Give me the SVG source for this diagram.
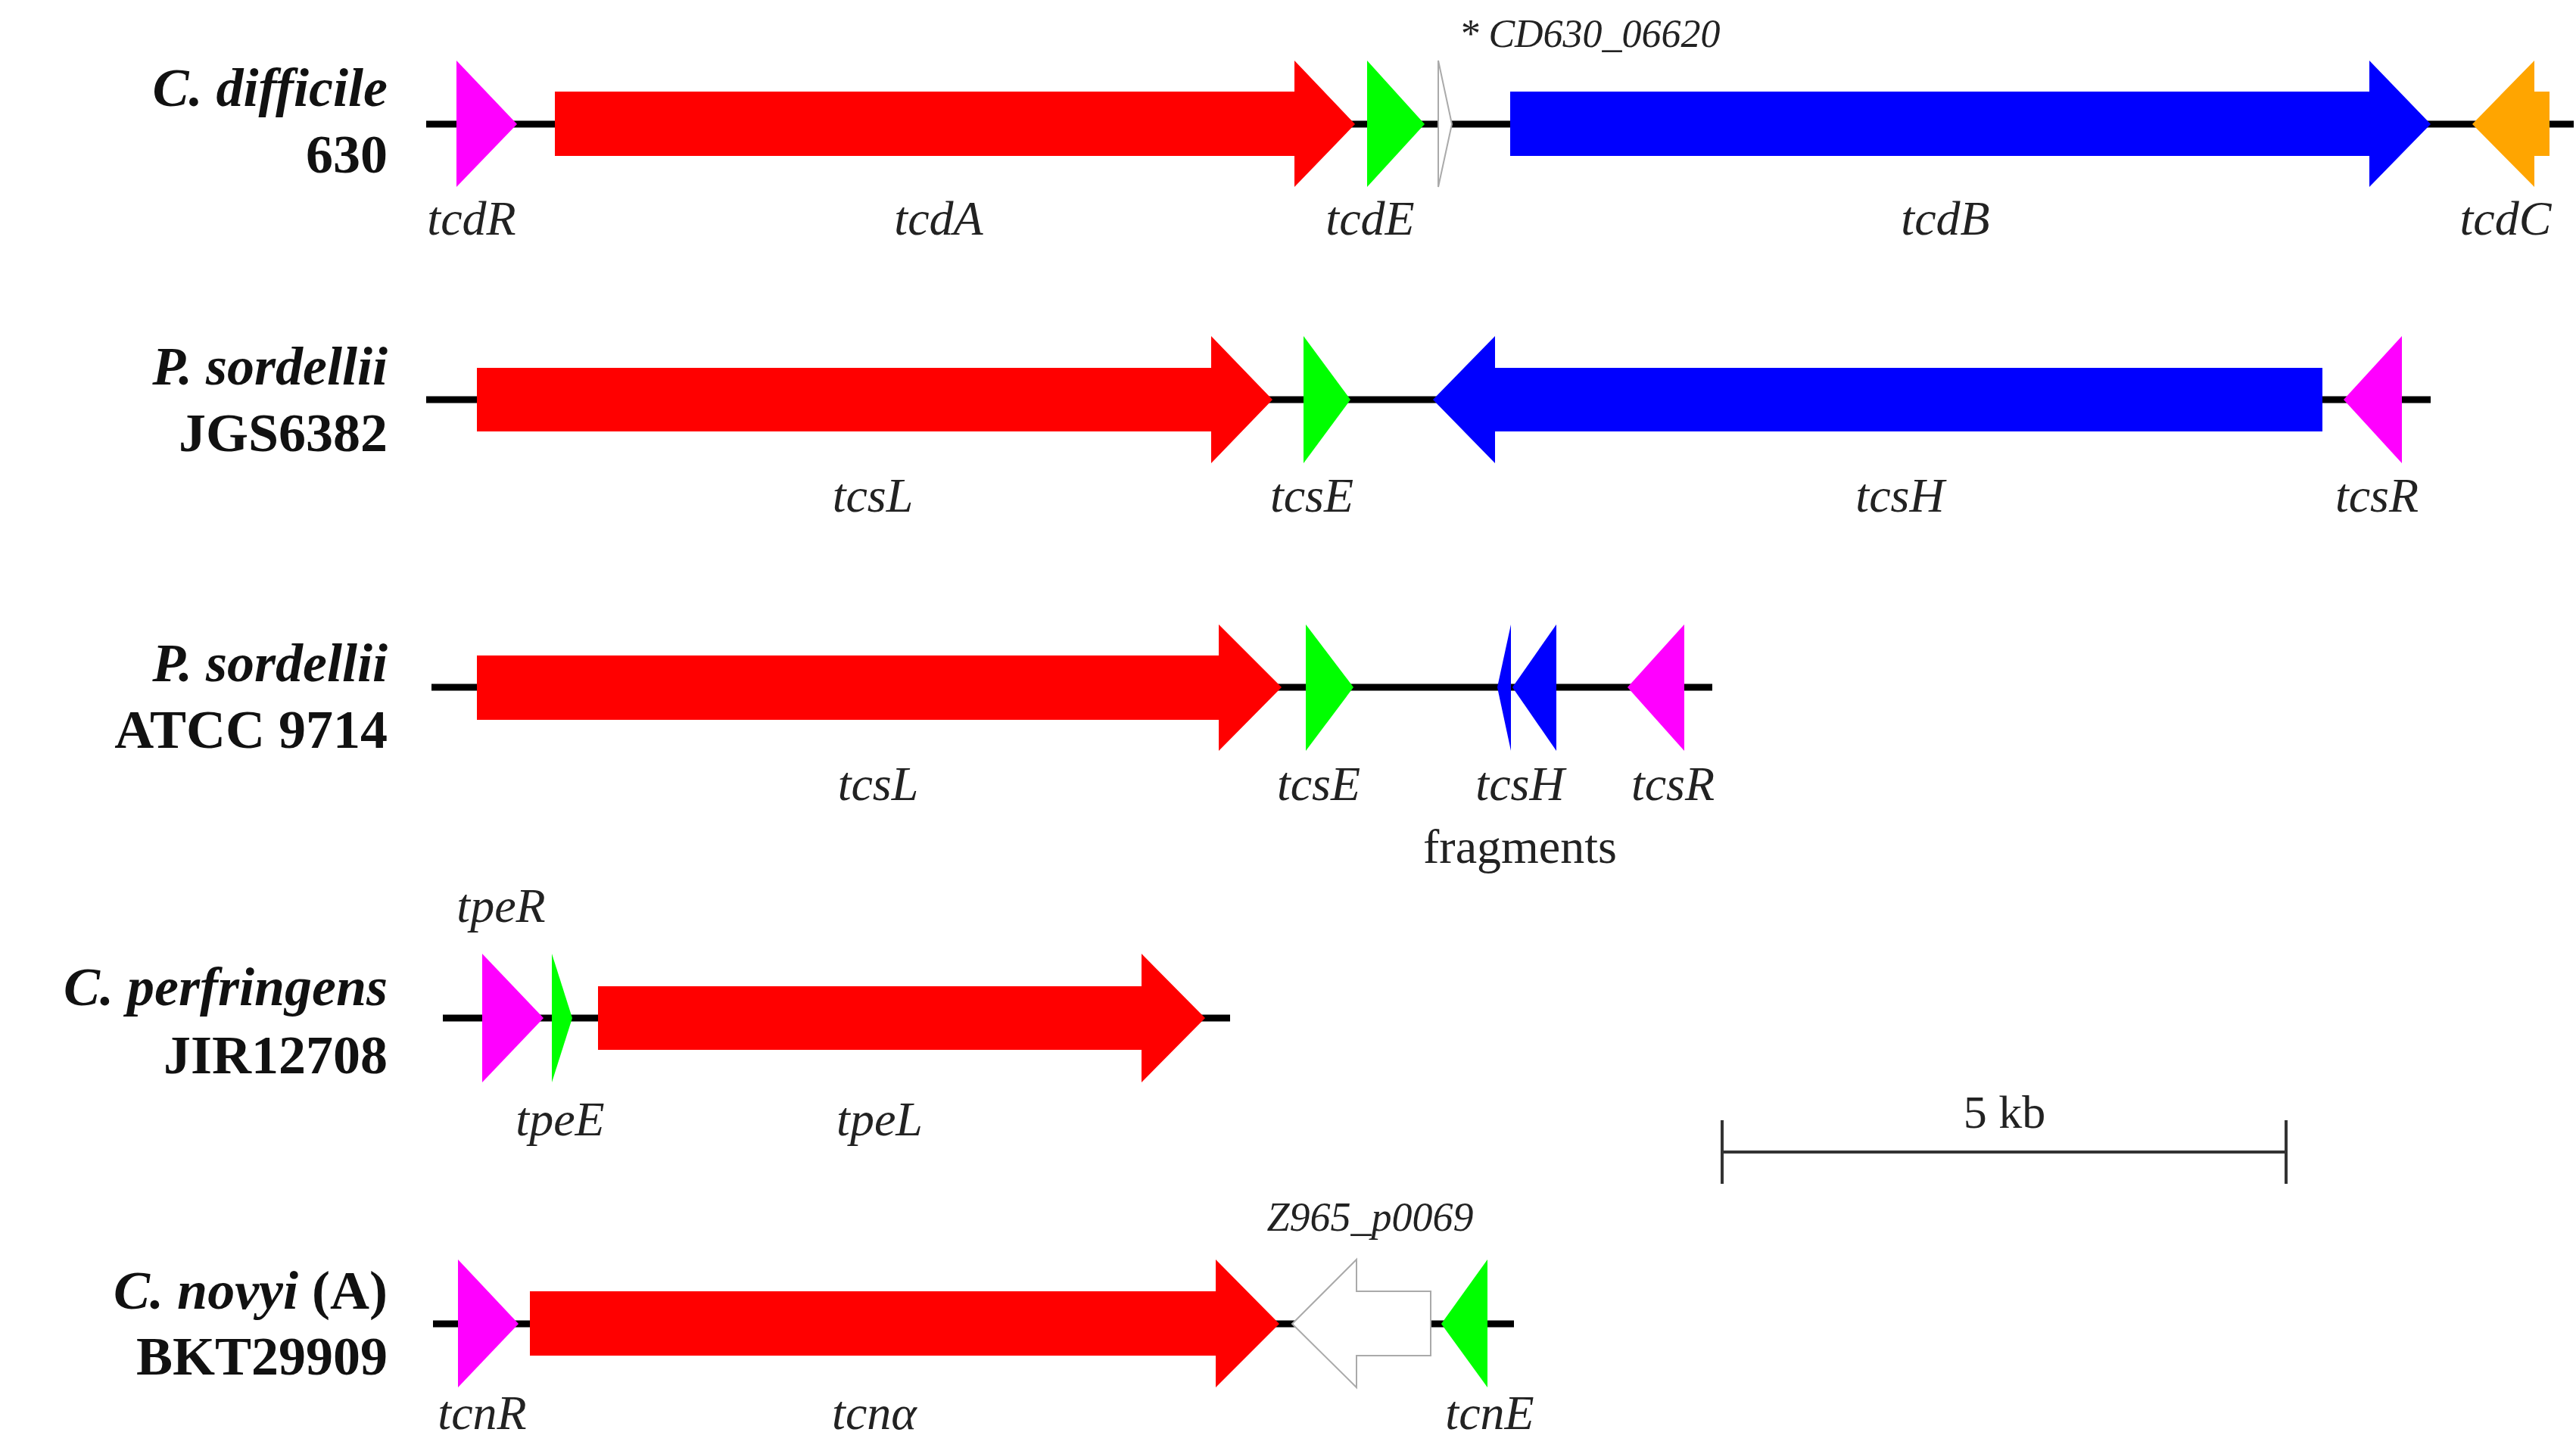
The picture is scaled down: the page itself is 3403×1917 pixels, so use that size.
<svg xmlns="http://www.w3.org/2000/svg" width="3403" height="1917" viewBox="0 0 3403 1917">
<style>
.ln{stroke:#000;stroke-width:9;fill:none}
.lab{font-family:"Liberation Serif",serif;font-style:italic;font-size:64px;text-anchor:middle;fill:#222}
.sp{font-family:"Liberation Serif",serif;font-weight:bold;font-size:72px;text-anchor:end;fill:#111}
.spi{font-style:italic}
.red{fill:#ff0000}.blue{fill:#0000ff}.green{fill:#00ff00}.mag{fill:#ff00ff}.org{fill:#ffa500}
.wht{fill:#fff;stroke:#aaa;stroke-width:2}
</style>
<rect width="3403" height="1917" fill="#fff"/>
<g id="connectors">
<line class="ln" x1="563" y1="164" x2="3400" y2="164"/>
<line class="ln" x1="563" y1="528" x2="3211" y2="528"/>
<line class="ln" x1="570" y1="908" x2="2262" y2="908"/>
<line class="ln" x1="585" y1="1345" x2="1625" y2="1345"/>
<line class="ln" x1="572" y1="1749" x2="2000" y2="1749"/>
</g>
<g id="row1">
<text class="sp" x="512" y="140"><tspan class="spi">C. difficile</tspan></text>
<text class="sp" x="512" y="228">630</text>
<polygon id="tcdR" class="mag" points="603,80 683,164 603,247"/>
<polygon id="tcdA" class="red" points="733,121 1710,121 1710,80 1790,164 1710,247 1710,206 733,206"/>
<polygon id="tcdE" class="green" points="1806,80 1882,164 1806,247"/>
<polygon id="cd630" class="wht" points="1900,80 1918,164 1900,247"/>
<polygon id="tcdB" class="blue" points="1995,121 3130,121 3130,80 3211,164 3130,247 3130,206 1995,206"/>
<polygon id="tcdC" class="org" points="3266,164 3348,80 3348,121 3368,121 3368,206 3348,206 3348,247"/>
<text class="lab" x="623" y="310">tcdR</text>
<text class="lab" x="1240" y="310">tcdA</text>
<text class="lab" x="1810" y="310">tcdE</text>
<text class="lab" x="2570" y="310">tcdB</text>
<text class="lab" x="3310" y="310">tcdC</text>
<text class="lab" x="2100" y="62" style="font-size:52px">* CD630_06620</text>
</g>
<g id="row2">
<text class="sp" x="512" y="508"><tspan class="spi">P. sordellii</tspan></text>
<text class="sp" x="512" y="596">JGS6382</text>
<polygon id="tcsL1" class="red" points="630,486 1600,486 1600,444 1681,528 1600,612 1600,570 630,570"/>
<polygon id="tcsE1" class="green" points="1722,444 1784,528 1722,612"/>
<polygon id="tcsH1" class="blue" points="1893,528 1975,444 1975,486 3068,486 3068,570 1975,570 1975,612"/>
<polygon id="tcsR1" class="mag" points="3096,528 3173,444 3173,612"/>
<text class="lab" x="1153" y="676">tcsL</text>
<text class="lab" x="1733" y="676">tcsE</text>
<text class="lab" x="2510" y="676">tcsH</text>
<text class="lab" x="3140" y="676">tcsR</text>
</g>
<g id="row3">
<text class="sp" x="512" y="900"><tspan class="spi">P. sordellii</tspan></text>
<text class="sp" x="512" y="988">ATCC 9714</text>
<polygon id="tcsL2" class="red" points="630,866 1610,866 1610,825 1693,908 1610,992 1610,951 630,951"/>
<polygon id="tcsE2" class="green" points="1725,825 1788,908 1725,992"/>
<polygon id="tcsHa" class="blue" points="1978,908 1996,825 1996,992"/>
<polygon id="tcsHb" class="blue" points="1998,908 2056,825 2056,992"/>
<polygon id="tcsR2" class="mag" points="2150,908 2225,825 2225,992"/>
<text class="lab" x="1160" y="1057">tcsL</text>
<text class="lab" x="1742" y="1057">tcsE</text>
<text class="lab" x="2008" y="1057">tcsH</text>
<text class="lab" x="2210" y="1057">tcsR</text>
<text class="lab" x="2008" y="1140" style="font-style:normal">fragments</text>
</g>
<g id="row4">
<text class="sp" x="512" y="1328"><tspan class="spi">C. perfringens</tspan></text>
<text class="sp" x="512" y="1418">JIR12708</text>
<polygon id="tpeR" class="mag" points="637,1260 718,1345 637,1430"/>
<polygon id="tpeE" class="green" points="729,1260 756,1345 729,1430"/>
<polygon id="tpeL" class="red" points="790,1303 1508,1303 1508,1260 1592,1345 1508,1430 1508,1387 790,1387"/>
<text class="lab" x="662" y="1218">tpeR</text>
<text class="lab" x="740" y="1500">tpeE</text>
<text class="lab" x="1162" y="1500">tpeL</text>
</g>
<g id="row5">
<text class="sp" x="512" y="1729"><tspan class="spi">C. novyi</tspan> (A)</text>
<text class="sp" x="512" y="1816">BKT29909</text>
<polygon id="tcnR" class="mag" points="605,1664 685,1749 605,1833"/>
<polygon id="tcna" class="red" points="700,1706 1606,1706 1606,1664 1690,1749 1606,1833 1606,1791 700,1791"/>
<polygon id="z965" class="wht" points="1707,1749 1792,1664 1792,1706 1890,1706 1890,1791 1792,1791 1792,1833"/>
<polygon id="tcnE" class="green" points="1904,1749 1965,1664 1965,1833"/>
<text class="lab" x="637" y="1888">tcnR</text>
<text class="lab" x="1155" y="1888">tcnα</text>
<text class="lab" x="1968" y="1888">tcnE</text>
<text class="lab" x="1810" y="1626" style="font-size:54px">Z965_p0069</text>
</g>
<g id="scalebar" stroke="#333" stroke-width="4">
<line x1="2275" y1="1522" x2="3020" y2="1522"/>
<line x1="2275" y1="1480" x2="2275" y2="1564"/>
<line x1="3020" y1="1480" x2="3020" y2="1564"/>
<text x="2648" y="1490" stroke="none" fill="#222" style="font-family:'Liberation Serif',serif;font-size:62px;text-anchor:middle">5 kb</text>
</g>
</svg>
